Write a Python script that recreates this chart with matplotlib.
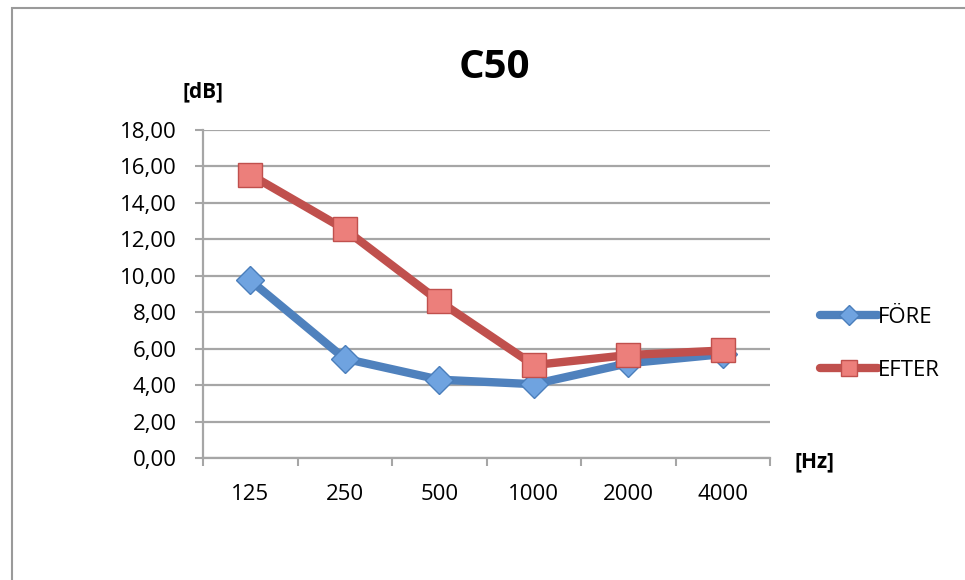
import numpy as np
import matplotlib.pyplot as plt
from matplotlib.patches import Rectangle
from matplotlib.ticker import FixedLocator, FuncFormatter

# frequency bands and measured C50 values
freqs = ['125', '250', '500', '1000', '2000', '4000']
fore = [9.75, 5.45, 4.3, 4.05, 5.2, 5.7]
efter = [15.55, 12.55, 8.6, 5.1, 5.65, 5.9]

plt.rcParams['font.family'] = ['Open Sans', 'DejaVu Sans']

fig = plt.figure(figsize=(9.65, 5.8), dpi=100)
fig.patches.append(Rectangle((12 / 965, -0.1), 1.2, 1 - 8 / 580 + 0.1,
                             transform=fig.transFigure, fill=False,
                             edgecolor='#9a9a9a', linewidth=1.5))

ax = fig.add_axes([203 / 965, 1 - 458 / 580, (770 - 203) / 965, (458 - 130) / 580])

x = np.arange(len(freqs))
ax.plot(x, fore, color='#4F81BD', linewidth=6, marker='D', markersize=14,
        markerfacecolor='#6FA3E0', markeredgecolor='#4A7EBB', markeredgewidth=1,
        solid_capstyle='round', label='FÖRE', zorder=3)
ax.plot(x, efter, color='#C0504D', linewidth=6, marker='s', markersize=17,
        markerfacecolor='#EC7F7B', markeredgecolor='#C0504D', markeredgewidth=1,
        solid_capstyle='round', label='EFTER', zorder=4)

ax.set_xlim(-0.5, len(freqs) - 0.5)
ax.set_ylim(0, 18)
ax.set_yticks(np.arange(0, 19, 2))
ax.yaxis.set_major_formatter(FuncFormatter(lambda v, p: f'{v:.2f}'.replace('.', ',')))
ax.yaxis.grid(True, color='#A6A6A6', linewidth=1.6)
ax.set_axisbelow(True)

ax.xaxis.set_major_locator(FixedLocator(np.arange(-0.5, len(freqs), 1)))
ax.xaxis.set_major_formatter(FuncFormatter(lambda v, p: ''))
ax.xaxis.set_minor_locator(FixedLocator(x))
ax.set_xticklabels(freqs, minor=True)
ax.tick_params(axis='x', which='minor', length=0, pad=19, labelsize=16)
ax.tick_params(axis='x', which='major', length=6, width=1.5, color='#A6A6A6')
ax.tick_params(axis='y', length=6, width=1.5, color='#A6A6A6', labelsize=16, pad=13)

for s in ['top', 'right']:
    ax.spines[s].set_visible(False)
for s in ['left', 'bottom']:
    ax.spines[s].set_color('#A6A6A6')
    ax.spines[s].set_linewidth(1.6)

fig.text(494 / 965, 1 - 68 / 580, 'C50', ha='center', va='center',
         fontsize=29, fontweight='bold')
fig.text(203 / 965, 1 - 92 / 580, '[dB]', ha='center', va='center',
         fontsize=15, fontweight='bold')
fig.text(814 / 965, 1 - 462 / 580, '[Hz]', ha='center', va='center',
         fontsize=15, fontweight='bold')

leg = fig.legend(loc='center left', bbox_to_anchor=(800 / 965, 1 - 344 / 580),
                 frameon=False, fontsize=16, handlelength=2.6, handletextpad=0.0,
                 labelspacing=1.45, markerscale=0.7)

fig.savefig('out.png', dpi=100)
